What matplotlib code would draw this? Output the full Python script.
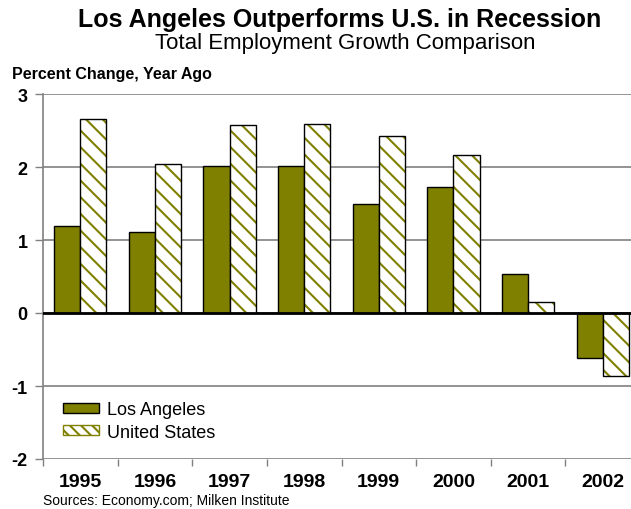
import matplotlib.pyplot as plt
import numpy as np
from matplotlib.patches import Patch

plt.rcParams['font.family'] = ['Liberation Sans', 'DejaVu Sans']
plt.rcParams['hatch.linewidth'] = 1.5

# data
years = ['1995', '1996', '1997', '1998', '1999', '2000', '2001', '2002']
los_angeles = [1.19, 1.11, 2.01, 2.02, 1.50, 1.72, 0.53, -0.62]
united_states = [2.66, 2.04, 2.57, 2.59, 2.42, 2.17, 0.15, -0.86]
yticks = [-2, -1, 0, 1, 2, 3]

olive = '#808000'
grid_gray = '#808080'

fig = plt.figure(figsize=(6.31, 5.10), dpi=100)
# the plot area runs a little past the right edge of the picture
ax = fig.add_axes([43 / 631, 1 - 460 / 510, 597 / 631, 365 / 510])

x = np.arange(len(years))
w = 0.35

ax.bar(x - w / 2, los_angeles, w, color=olive, edgecolor='black', linewidth=1.0, zorder=3)
# hatched US bars: hatch drawn in olive, then a black outline on top
ax.bar(x + w / 2, united_states, w, color='white', edgecolor=olive, linewidth=0,
       hatch='\\\\', zorder=3)
ax.bar(x + w / 2, united_states, w, fill=False, edgecolor='black', linewidth=1.0, zorder=4)

ax.set_xlim(-0.5, len(years) - 0.5)
ax.set_ylim(-2, 3)
ax.set_yticks(yticks)
ax.set_yticklabels([str(v) for v in yticks], fontsize=13, fontweight='bold')
ax.yaxis.grid(True, color=grid_gray, linewidth=1.2, zorder=0)
ax.set_axisbelow(True)
ax.axhline(0, color='black', linewidth=2, zorder=5)

ax.set_xticks(x)
ax.set_xticklabels(years, fontsize=14, fontweight='bold')
ax.set_xticks(np.arange(-0.5, len(years), 1), minor=True)
ax.tick_params(axis='x', which='major', length=0, pad=10)
ax.tick_params(axis='x', which='minor', length=5, width=1, color=grid_gray, direction='out')
ax.tick_params(axis='y', length=6, width=1, color=grid_gray, pad=5)

for side in ['top', 'right', 'bottom']:
    ax.spines[side].set_visible(False)
ax.spines['left'].set_color(grid_gray)
ax.spines['left'].set_linewidth(1.2)

handles = [Patch(facecolor=olive, edgecolor='black', label='Los Angeles'),
           Patch(facecolor='white', edgecolor=olive, hatch='\\\\\\', label='United States')]
ax.legend(handles=handles, loc='upper left', bbox_to_anchor=(0.034, 0.158),
          frameon=False, fontsize=13, borderpad=0, borderaxespad=0,
          handlelength=2.0, handleheight=0.5, handletextpad=0.4, labelspacing=0.3)

fig.text(340 / 631, 1 - 27 / 510, 'Los Angeles Outperforms U.S. in Recession',
         ha='center', va='baseline', fontsize=18, fontweight='bold')
fig.text(345 / 631, 1 - 49.5 / 510, 'Total Employment Growth Comparison',
         ha='center', va='baseline', fontsize=16)
fig.text(12 / 631, 1 - 79 / 510, 'Percent Change, Year Ago',
         ha='left', va='baseline', fontsize=11.5, fontweight='bold')
fig.text(43 / 631, 1 - 505 / 510, 'Sources: Economy.com; Milken Institute',
         ha='left', va='baseline', fontsize=10)

fig.savefig('out.png', dpi=100)
